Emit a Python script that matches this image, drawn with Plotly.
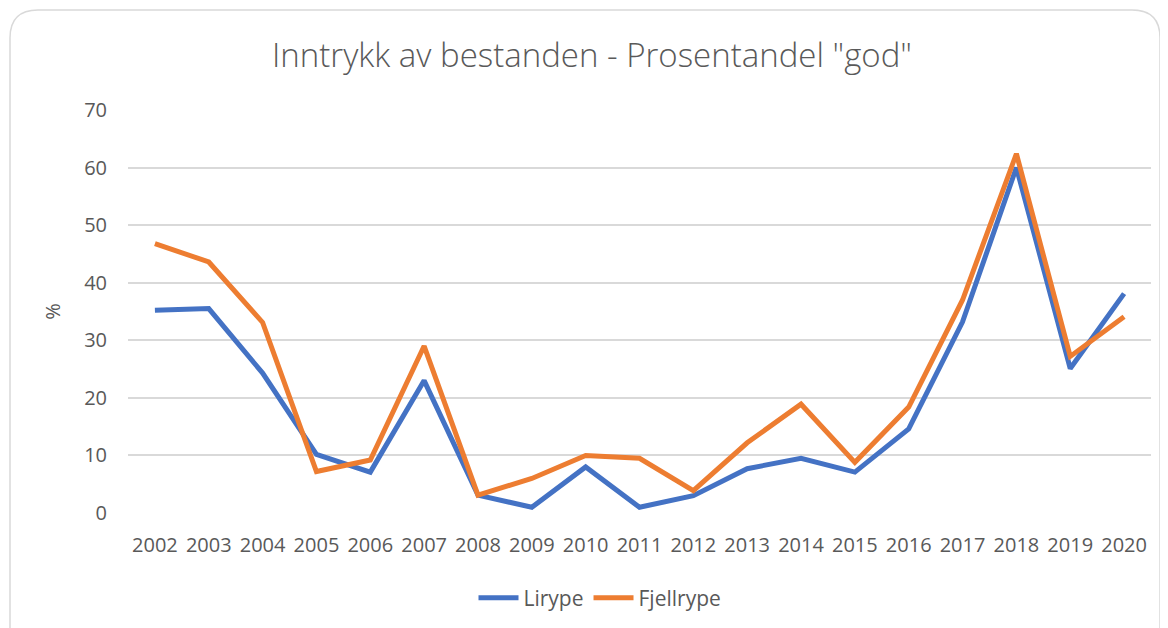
import plotly.graph_objects as go

years = [str(y) for y in range(2002, 2021)]
lirype = [35.2, 35.5, 24.3, 10.2, 7.1, 23.0, 3.1, 1.0, 8.0, 1.0, 3.0, 7.7, 9.5, 7.1, 14.6, 33.2, 60.0, 25.1, 38.1]
fjellrype = [46.8, 43.6, 33.1, 7.2, 9.2, 29.0, 3.1, 6.0, 10.0, 9.5, 3.9, 12.2, 18.9, 8.8, 18.4, 37.0, 62.4, 27.2, 34.1]

series_names = ["Lirype", "Fjellrype"]
series_colors = ["#4472C4", "#ED7D31"]
y_ticks = [0, 10, 20, 30, 40, 50, 60, 70]

font_family = "Open Sans, Noto Sans, sans-serif"
text_color = "#595959"

fig = go.Figure()
for name, vals, col in zip(series_names, [lirype, fjellrype], series_colors):
    fig.add_trace(go.Scatter(
        x=years, y=vals, name=name, mode="lines",
        line=dict(color=col, width=5, shape="linear"),
    ))

# page body has an 8px margin; figure coordinates are offset by it
OFF = 8
W, H = 1168 - OFF, 628 - OFF
ml, mr, mt, mb = 128 - OFF, 17, 110 - OFF, 115
pw, ph = W - ml - mr, H - mt - mb

def px_to_paper_x(px):
    return (px - OFF - ml) / pw

def px_to_paper_y(py):
    return (H - mb - (py - OFF)) / ph

# rounded card border (page pixel coords)
x0, x1, y0, y1, r = 10, 1160, 10, 660, 28
path = (
    f"M {x0+r},{y0} L {x1-r},{y0} Q {x1},{y0} {x1},{y0+r} "
    f"L {x1},{y1-r} Q {x1},{y1} {x1-r},{y1} L {x0+r},{y1} Q {x0},{y1} {x0},{y1-r} "
    f"L {x0},{y0+r} Q {x0},{y0} {x0+r},{y0} Z"
)

def conv_path(p):
    out = []
    for tok in p.split():
        if "," in tok:
            a, b = tok.split(",")
            out.append(f"{px_to_paper_x(float(a)):.5f},{px_to_paper_y(float(b)):.5f}")
        else:
            out.append(tok)
    return " ".join(out)

fig.update_layout(
    width=W, height=H,
    margin=dict(l=ml, r=mr, t=mt, b=mb),
    paper_bgcolor="white", plot_bgcolor="white",
    font=dict(family=font_family, color=text_color, size=20),
    title=dict(
        text='Inntrykk av bestanden - Prosentandel "god"',
        x=(592 - OFF) / W, xanchor="center", xref="container",
        y=1 - (55 - OFF) / H, yanchor="middle", yref="container",
        font=dict(size=33, color=text_color, family=font_family, weight=300),
    ),
    xaxis=dict(
        type="category", showgrid=False, zeroline=False, showline=False,
        ticks="", tickfont=dict(size=20, color=text_color),
        range=[-0.5, len(years) - 0.5], ticklabelstandoff=18,
    ),
    yaxis=dict(
        range=[0, 70], tickvals=y_ticks, showgrid=True, gridcolor="#D9D9D9",
        gridwidth=1.5, zeroline=False, showline=False, ticks="",
        tickfont=dict(size=20, color=text_color), ticklabelstandoff=20,
        title=dict(text="%", font=dict(size=20, color=text_color), standoff=18),
    ),
    legend=dict(
        orientation="h", x=(600 - OFF) / W, xref="container",
        xanchor="center", y=1 - (598 - OFF) / H, yref="container", yanchor="middle",
        font=dict(size=21, color=text_color), itemwidth=40,
        traceorder="normal",
    ),
    showlegend=True,
)

fig.add_shape(
    type="path", path=conv_path(path), xref="paper", yref="paper",
    line=dict(color="#D9D9D9", width=1.5), layer="below",
)

fig.write_html("out.html")
